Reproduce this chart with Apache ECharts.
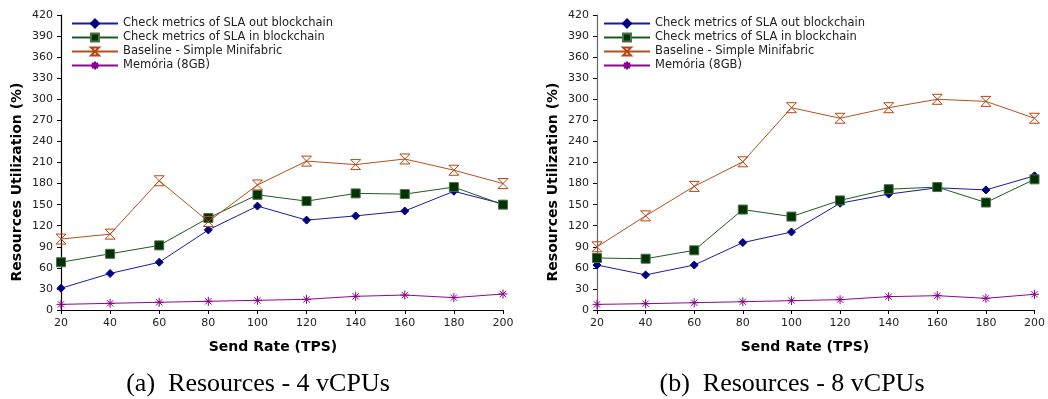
<!DOCTYPE html>
<html><head><meta charset="utf-8">
<script src="https://cdn.jsdelivr.net/npm/echarts@6/dist/echarts.min.js"></script>
<style>html,body{margin:0;padding:0;background:#fff}#c{width:1048px;height:399px}</style>
</head><body><div id="c"></div>
<script>
const sendRate = [20, 40, 60, 80, 100, 120, 140, 160, 180, 200];
const seriesNames = ['Check metrics of SLA out blockchain', 'Check metrics of SLA in blockchain', 'Baseline - Simple Minifabric', 'Memória (8GB)'];
const yTicks = {min: 0, max: 420, interval: 30};
// (a) 4 vCPUs
const a_out = [31, 52, 68, 114, 148, 128, 134, 141, 169, 151];
const a_in = [68, 80, 92, 131, 164, 155, 166, 165, 175, 150];
const a_base = [101, 108, 184, 126, 178, 212, 207, 215, 199, 180];
const a_mem = [8, 9.5, 11, 12.4, 13.8, 15.2, 19.5, 21.3, 17.6, 22.8];
// (b) 8 vCPUs
const b_out = [64, 50, 64, 96, 111, 152, 165, 174, 171, 191];
const b_in = [74, 73, 85, 143, 133, 156, 172, 175, 153, 186];
const b_base = [90, 134, 176, 211, 288, 273, 288, 300, 297, 273];
const b_mem = [8, 9, 10.4, 11.8, 13.3, 14.7, 19, 20.4, 16.6, 22.4];
const captions = ['(a)  Resources - 4 vCPUs', '(b)  Resources - 8 vCPUs'];
const xTitle = 'Send Rate (TPS)';
const yTitle = 'Resources Utilization (%)';

const styles = [
  {line: '#1a1aa0', sym: 'diamond', fill: '#000080', border: '#000080', size: 8},
  {line: '#1e5a1e', sym: 'rect', fill: '#003300', border: '#4a704a', size: 9},
  {line: '#b5501a', sym: 'path://M0,0L10,0L0,10L10,10Z', fill: 'rgba(255,255,255,0)', border: '#b5460f', size: 10},
  {line: '#8b0a8b', sym: 'path://M5,0L5,10M0,5L10,5M1.5,1.5L8.5,8.5M8.5,1.5L1.5,8.5', fill: '#8b008b', border: '#8b008b', size: 9}
];
const zip = arr => sendRate.map((x, i) => [x, arr[i]]);
const grids = [{left: 61, top: 15, width: 442, height: 295}, {left: 597, top: 15, width: 441, height: 295}];
const font = 'DejaVu Sans';

function mkSeries(gi, data) {
  return data.map((d, k) => ({
    name: seriesNames[k], type: 'line', xAxisIndex: gi, yAxisIndex: gi,
    data: zip(d), symbol: styles[k].sym, symbolSize: styles[k].size,
    lineStyle: {color: styles[k].line, width: 1},
    itemStyle: {color: styles[k].fill, borderColor: styles[k].border, borderWidth: 1},
    emphasis: {disabled: true}, animation: false
  }));
}
const axisColor = ['#000', '#666'];
const option = {
  animation: false,
  grid: grids,
  legend: [0, 1].map(gi => ({
    orient: 'vertical', left: gi === 0 ? 71 : 603, top: 16.5, padding: 0, itemWidth: 46, itemHeight: 10, itemGap: 0,
    textStyle: {fontFamily: font, fontSize: 11.5, color: '#222', lineHeight: 14},
    data: seriesNames.map(n => ({name: n})),
  })),
  xAxis: [0, 1].map(gi => ({
    gridIndex: gi, type: 'value', min: 20, max: 200, interval: 20,
    axisLine: {lineStyle: {color: '#000', width: 1.2}},
    axisTick: {lineStyle: {color: '#000'}, length: 4},
    axisLabel: {fontFamily: font, fontSize: 11, color: '#222', margin: 8},
    splitLine: {show: false}
  })),
  yAxis: [0, 1].map(gi => ({
    gridIndex: gi, type: 'value', min: yTicks.min, max: yTicks.max, interval: yTicks.interval,
    axisLine: {show: true, lineStyle: {color: axisColor[gi], width: 1.2}},
    axisTick: {show: true, lineStyle: {color: '#000'}, length: 4},
    axisLabel: {fontFamily: font, fontSize: 11, color: '#222', margin: 8},
    splitLine: {show: false}
  })),
  series: [...mkSeries(0, [a_out, a_in, a_base, a_mem]), ...mkSeries(1, [b_out, b_in, b_base, b_mem])]
};
const g = [];
[17, 553].forEach((yx, i) => {
  g.push({type: 'text', x: yx, y: 182, rotation: Math.PI / 2, style: {text: yTitle, font: 'bold 14px "DejaVu Sans"', fill: '#000', align: 'center', verticalAlign: 'middle'}});
  g.push({type: 'text', x: [273, 805][i], y: 347, style: {text: xTitle, font: 'bold 14px "DejaVu Sans"', fill: '#000', align: 'center', verticalAlign: 'middle'}});
  g.push({type: 'text', x: [258, 792][i], y: 384, style: {text: captions[i], font: '26px "Liberation Serif"', fill: '#000', align: 'center', verticalAlign: 'middle'}});
});
option.graphic = g;
const chart = echarts.init(document.getElementById('c'), null, {renderer: 'canvas'});
chart.setOption(option);
</script></body></html>
